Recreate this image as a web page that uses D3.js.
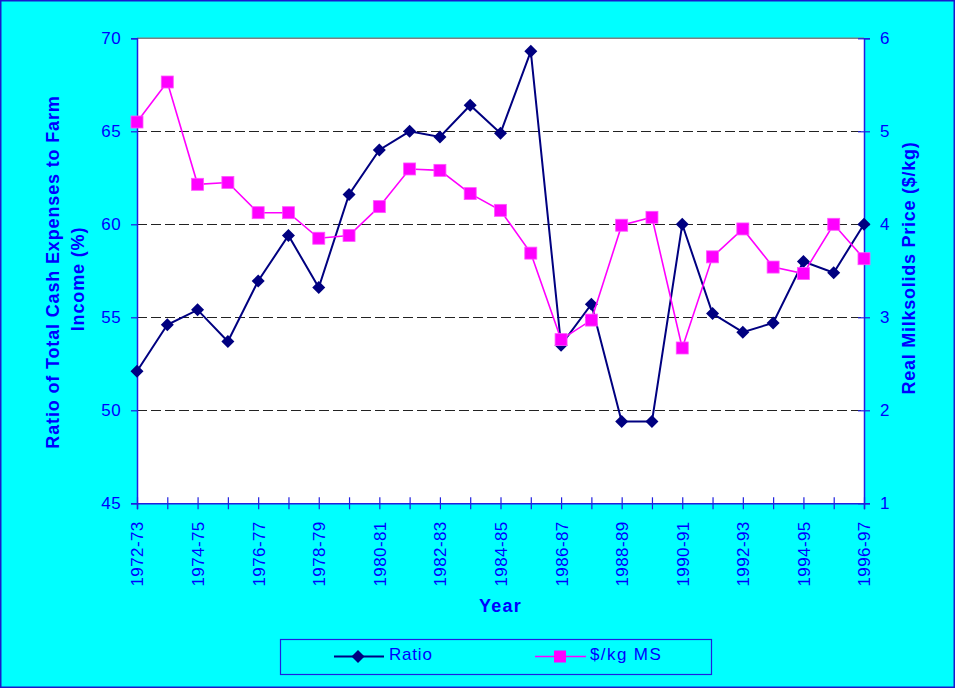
<!DOCTYPE html>
<html>
<head>
<meta charset="utf-8">
<script src="https://cdn.jsdelivr.net/npm/d3@7"></script>
<style>
  html, body { margin: 0; padding: 0; background: #00ffff; }
  svg { display: block; }
  text { font-family: "Liberation Sans", Arial, sans-serif; }
</style>
</head>
<body>
<svg id="chart" width="955" height="688"></svg>
<script>
const categories = ["1972-73","1973-74","1974-75","1975-76","1976-77","1977-78","1978-79","1979-80",
  "1980-81","1981-82","1982-83","1983-84","1984-85","1985-86","1986-87","1987-88","1988-89",
  "1989-90","1990-91","1991-92","1992-93","1993-94","1994-95","1995-96","1996-97"];
const ratio = [52.1,54.6,55.4,53.7,56.95,59.4,56.6,61.6,64.0,65.0,64.7,66.4,64.9,69.3,
  53.5,55.7,49.4,49.4,60.0,55.2,54.2,54.7,58.0,57.4,60.0];
const priceKgMS = [5.10,5.53,4.43,4.45,4.125,4.125,3.85,3.88,4.19,4.595,4.58,4.33,4.15,3.69,
  2.76,2.97,3.99,4.075,2.67,3.65,3.95,3.54,3.47,4.0,3.63];
const leftTicks = [45,50,55,60,65,70];
const rightTicks = [1,2,3,4,5,6];
const gridValues = [50,55,60,65];
const xTickLabels = ["1972-73","1974-75","1976-77","1978-79","1980-81","1982-83","1984-85",
  "1986-87","1988-89","1990-91","1992-93","1994-95","1996-97"];
const seriesNames = ["Ratio","$/kg MS"];

const svg = d3.select("#chart");
const W = 955, H = 688;
const L = 137, R = 864, T = 38.3, B = 503.3;
const blue = "#0000ff", axisBlue = "#1f1fe0";
const navy = "#000080", magenta = "#ff00ff";

svg.append("rect").attr("x",0).attr("y",0).attr("width",W).attr("height",H).attr("fill","#00ffff");
svg.append("rect").attr("x",0.75).attr("y",0.75).attr("width",W-1.5).attr("height",H-1.5)
  .attr("fill","none").attr("stroke","#1a1acc").attr("stroke-width",1.5);

const x = d3.scalePoint().domain(categories).range([L, R]);
const yL = d3.scaleLinear().domain([45,70]).range([B, T]);
const yR = d3.scaleLinear().domain([1,6]).range([B, T]);

// plot area
svg.append("rect").attr("x",L).attr("y",T).attr("width",R-L).attr("height",B-T).attr("fill","#fff");
svg.append("line").attr("x1",L).attr("x2",R).attr("y1",T).attr("y2",T)
  .attr("stroke","#808080").attr("stroke-width",1.5);

// gridlines
svg.append("g").selectAll("line").data(gridValues).join("line")
  .attr("x1",L).attr("x2",R)
  .attr("y1",d=>Math.round(yL(d))+0.5).attr("y2",d=>Math.round(yL(d))+0.5)
  .attr("stroke","#222").attr("stroke-width",1).attr("stroke-dasharray","10,4");

// axes
const tickFont = 17;
const leftAxis = svg.append("g").attr("transform",`translate(${L},0)`)
  .call(d3.axisLeft(yL).tickValues(leftTicks).tickSize(6).tickPadding(10).tickFormat(d3.format("d")));
const rightAxis = svg.append("g").attr("transform",`translate(${R},0)`)
  .call(d3.axisRight(yR).tickValues(rightTicks).tickSize(6).tickPadding(10).tickFormat(d3.format("d")));
rightAxis.selectAll(".tick line").attr("x1",-6);
const bottomAxis = svg.append("g").attr("transform",`translate(0,${B})`)
  .call(d3.axisBottom(x).tickSize(6).tickFormat(d => xTickLabels.includes(d) ? d : ""));
bottomAxis.selectAll(".tick line").attr("y1",-6);

[leftAxis,rightAxis,bottomAxis].forEach(g => {
  g.select(".domain").attr("stroke",axisBlue).attr("stroke-width",1.5);
  g.selectAll(".tick line").attr("stroke",axisBlue).attr("stroke-width",1.2);
  g.selectAll("text").attr("fill",blue).attr("font-size",tickFont)
    .attr("font-family",'"Liberation Sans", Arial, sans-serif').style("letter-spacing","0.4px");
});
leftAxis.selectAll(".tick text").attr("dy","0.28em");
rightAxis.selectAll(".tick text").attr("dy","0.28em");
bottomAxis.selectAll(".tick text")
  .attr("transform","rotate(-90)").attr("text-anchor","end")
  .attr("x",-18).attr("y",0).attr("dy","0.35em");

// axis titles
const titleFont = 18;
const lt = svg.append("text").attr("fill",blue).attr("font-weight","bold").attr("font-size",titleFont)
  .attr("text-anchor","middle").style("letter-spacing","0.85px");
lt.append("tspan").attr("x",-272).attr("y",59).text("Ratio of Total Cash Expenses to Farm");
lt.append("tspan").attr("x",-279).attr("y",84).text("Income (%)");
lt.attr("transform","rotate(-90)");

svg.append("text").attr("fill",blue).attr("font-weight","bold").attr("font-size",titleFont)
  .attr("text-anchor","middle").style("letter-spacing","0.75px")
  .attr("transform","translate(915,268) rotate(-90)").text("Real Milksolids Price ($/kg)");

svg.append("text").attr("fill",blue).attr("font-weight","bold").attr("font-size",titleFont)
  .attr("text-anchor","middle").style("letter-spacing","1.2px")
  .attr("x",(L+R)/2).attr("y",612).text("Year");

// series
const lineRatio = d3.line().x((d,i)=>x(categories[i])).y(d=>yL(d));
const linePrice = d3.line().x((d,i)=>x(categories[i])).y(d=>yR(d));

svg.append("path").datum(ratio).attr("d",lineRatio).attr("fill","none")
  .attr("stroke",navy).attr("stroke-width",2);
const diamond = s => `M0,${-s}L${s},0L0,${s}L${-s},0Z`;
svg.append("g").selectAll("path").data(ratio).join("path")
  .attr("transform",(d,i)=>`translate(${x(categories[i])},${yL(d)})`)
  .attr("d",diamond(6.5)).attr("fill",navy);

svg.append("path").datum(priceKgMS).attr("d",linePrice).attr("fill","none")
  .attr("stroke",magenta).attr("stroke-width",1.6);
svg.append("g").selectAll("rect").data(priceKgMS).join("rect")
  .attr("x",(d,i)=>x(categories[i])-6).attr("y",d=>yR(d)-6)
  .attr("width",12).attr("height",12).attr("fill",magenta)
  .attr("stroke","#ff55ff").attr("stroke-width",0.8);

// legend
const lg = svg.append("g");
lg.append("rect").attr("x",280.5).attr("y",639.5).attr("width",431).attr("height",35)
  .attr("fill","none").attr("stroke",axisBlue).attr("stroke-width",1.2);
lg.append("line").attr("x1",334).attr("x2",384).attr("y1",656.5).attr("y2",656.5)
  .attr("stroke",navy).attr("stroke-width",2);
lg.append("path").attr("transform","translate(358,656.5)").attr("d",diamond(6.5)).attr("fill",navy);
lg.append("text").attr("x",389).attr("y",659.5).attr("fill",blue).attr("font-size",tickFont)
  .style("letter-spacing","0.8px").text(seriesNames[0]);
lg.append("line").attr("x1",535).attr("x2",586).attr("y1",656.5).attr("y2",656.5)
  .attr("stroke",magenta).attr("stroke-width",1.6);
lg.append("rect").attr("x",554).attr("y",650.5).attr("width",12).attr("height",12).attr("fill",magenta);
lg.append("text").attr("x",590).attr("y",659.5).attr("fill",blue).attr("font-size",tickFont)
  .style("letter-spacing","1.4px").text(seriesNames[1]);
</script>
</body>
</html>
